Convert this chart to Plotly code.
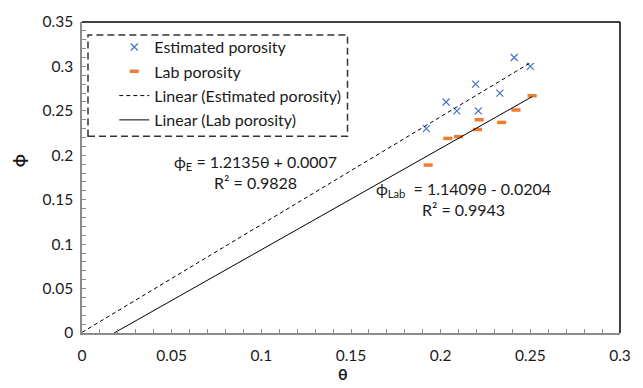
import plotly.graph_objects as go

# ---- data ----
theta = [0.192, 0.203, 0.209, 0.2195, 0.221, 0.233, 0.241, 0.25]
phi_estimated = [0.23, 0.26, 0.25, 0.28, 0.25, 0.27, 0.31, 0.30]
theta_lab = [0.193, 0.204, 0.210, 0.2205, 0.2215, 0.234, 0.242, 0.251]
phi_lab = [0.189, 0.219, 0.221, 0.229, 0.240, 0.237, 0.251, 0.267]

# trendline coefficients (slope, intercept, R2) as printed on the chart
est_fit = (1.2135, 0.0007, 0.9828)
lab_fit = (1.1409, -0.0204, 0.9943)

x_ticks = [0, 0.05, 0.1, 0.15, 0.2, 0.25, 0.3]
x_ticktext = ["0", "0.05", "0.1", "0.15", "0.2", "0.25", "0.3"]
y_ticks = [0, 0.05, 0.1, 0.15, 0.2, 0.25, 0.3, 0.35]
y_ticktext = ["0", "0.05", "0.1", "0.15", "0.2", "0.25", "0.3", "0.35"]

FONT = "Lato"
TXT = "#1a1a1a"
AXC = "#8c8c8c"


def trend(fit, xmax):
    m, b, _ = fit
    x0 = max(0.0, -b / m)
    xs = [x0, xmax]
    return xs, [m * x + b for x in xs]


fig = go.Figure()

fig.add_trace(go.Scatter(
    x=theta, y=phi_estimated, mode="markers", name="Estimated porosity",
    legendgroup="a",
    marker=dict(symbol="x-thin", size=7, line=dict(width=1.2, color="#4472C4"), color="#4472C4"),
))
fig.add_trace(go.Scatter(
    x=theta_lab, y=phi_lab, mode="markers", name="Lab porosity",
    legendgroup="b",
    marker=dict(symbol="line-ew", size=6.5, line=dict(width=3.5, color="#ED7D31"), color="#ED7D31"),
))
ex, ey = trend(est_fit, max(theta))
fig.add_trace(go.Scatter(
    x=ex, y=ey, mode="lines", name="Linear (Estimated porosity)",
    legendgroup="c",
    line=dict(color="black", width=1, dash="4px,3px"),
))
lx, ly = trend(lab_fit, max(theta_lab))
fig.add_trace(go.Scatter(
    x=lx, y=ly, mode="lines", name="Linear (Lab porosity)",
    legendgroup="d",
    line=dict(color="black", width=1),
))

axis_common = dict(
    showgrid=False, zeroline=False, showline=True, linecolor=AXC, linewidth=1.5,
    ticks="inside", ticklen=4, tickcolor=AXC, tickwidth=1,
    tickfont=dict(family=FONT, size=15.5, color=TXT),
)

fig.update_xaxes(range=[0, 0.3], tickvals=x_ticks, ticktext=x_ticktext,
                 minor=dict(dtick=0.01, ticks="inside", ticklen=4, tickcolor=AXC),
                 ticklabelstandoff=8, **axis_common)
fig.update_yaxes(range=[0, 0.35], tickvals=y_ticks, ticktext=y_ticktext,
                 minor=dict(dtick=0.01, ticks="inside", ticklen=4, tickcolor=AXC),
                 ticklabelstandoff=4, **axis_common)

fig.update_layout(
    width=643, height=388,
    margin=dict(l=82, r=22, t=20, b=55),
    paper_bgcolor="white", plot_bgcolor="white",
    font=dict(family=FONT, color=TXT),
    showlegend=True,
    legend=dict(
        x=0.06, y=0.974, xanchor="left", yanchor="top",
        bgcolor="rgba(0,0,0,0)", borderwidth=0,
        font=dict(family=FONT, size=16, color=TXT),
        traceorder="grouped", tracegroupgap=0.5, itemwidth=30,
    ),
    shapes=[
        # plot-area border (top and right)
        dict(type="line", xref="paper", yref="paper", x0=0, x1=1, y0=1, y1=1,
             line=dict(color="black", width=1.5)),
        dict(type="line", xref="paper", yref="paper", x0=1, x1=1, y0=0, y1=1,
             line=dict(color="black", width=1.5)),
        # dashed legend box
        dict(type="rect", xref="paper", yref="paper",
             x0=(88 - 82) / 539, x1=(348 - 82) / 539,
             y0=(333 - 135) / 313, y1=(333 - 33) / 313,
             line=dict(color="#333", width=1.5, dash="7px,4px")),
    ],
    annotations=[
        dict(xref="paper", yref="paper", x=(256 - 82) / 539, y=(333 - 170.5) / 313,
             text=f"ϕ<sub>E</sub> = {est_fit[0]:.4f}θ + {est_fit[1]:.4f}<br>R² = {est_fit[2]:.4f}",
             showarrow=False, align="center", xanchor="center", yanchor="middle",
             font=dict(family=FONT, size=16, color=TXT)),
        dict(xref="paper", yref="paper", x=(464 - 82) / 539, y=(333 - 198) / 313,
             text=f"ϕ<sub>Lab</sub>  = {lab_fit[0]:.4f}θ - {abs(lab_fit[1]):.4f}<br>R² = {lab_fit[2]:.4f}",
             showarrow=False, align="center", xanchor="center", yanchor="middle",
             font=dict(family=FONT, size=16, color=TXT)),
        dict(xref="paper", yref="paper", x=(343 - 82) / 539, y=(333 - 374) / 313,
             text="<b>θ</b>", showarrow=False, xanchor="center", yanchor="middle",
             font=dict(family=FONT, size=16, color=TXT)),
        dict(xref="paper", yref="paper", x=(18 - 82) / 539, y=(333 - 160) / 313,
             text="<b>ϕ</b>", showarrow=False, xanchor="center", yanchor="middle",
             textangle=-90, font=dict(family=FONT, size=17, color=TXT)),
    ],
)

fig.write_html("out.html", config={"displayModeBar": False},
               post_script="document.body.style.margin='0';")
